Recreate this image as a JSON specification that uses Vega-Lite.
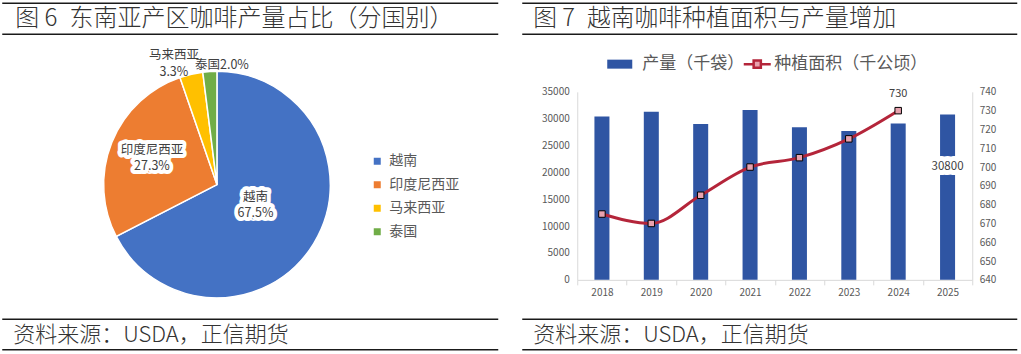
{
  "$schema": "https://vega.github.io/schema/vega-lite/v6.json",
  "background": "white",
  "padding": {"left": 1.25, "top": 2.25, "right": 0, "bottom": 0},
  "columns": 2,
  "bounds": "flush",
  "spacing": {"row": 0, "column": 24},
  "resolve": {
    "scale": {"color": "independent", "fill": "independent", "stroke": "independent"},
    "legend": {"color": "independent", "fill": "independent", "stroke": "independent"}
  },
  "config": {
    "font": "Noto Sans CJK SC",
    "view": {"stroke": null},
    "axis": {"labelFont": "Noto Sans CJK SC", "grid": false, "title": null},
    "legend": {"labelFont": "Noto Sans CJK SC"},
    "text": {"font": "Noto Sans CJK SC"}
  },
  "concat": [
    {
      "width": 496, "height": 46.1,
      "layer": [
        {"data": {"values": [{"p": 0}, {"p": 1}]}, "mark": {"type": "rule", "color": "#1a1a1a", "strokeWidth": 1.5},
         "encoding": {"y": {"field": "p", "type": "quantitative", "scale": {"domain": [0, 1], "range": [0, 31]}, "axis": null}}},
        {"data": {"values": [{"t": "图 6\u2002东南亚产区咖啡产量占比（分国别）"}]},
         "mark": {"type": "text", "align": "left", "baseline": "middle", "dx": 13, "fontSize": 24, "fontWeight": 300, "color": "#333333"},
         "encoding": {"text": {"field": "t"}, "x": {"datum": 0, "type": "quantitative", "scale": {"domain": [0, 1]}, "axis": null}, "y": {"datum": 0.5, "type": "quantitative", "axis": null}}}
      ]
    },
    {
      "width": 495, "height": 46.1,
      "layer": [
        {"data": {"values": [{"p": 0}, {"p": 1}]}, "mark": {"type": "rule", "color": "#1a1a1a", "strokeWidth": 1.5},
         "encoding": {"y": {"field": "p", "type": "quantitative", "scale": {"domain": [0, 1], "range": [0, 31]}, "axis": null}}},
        {"data": {"values": [{"t": "图 7\u2002越南咖啡种植面积与产量增加"}]},
         "mark": {"type": "text", "align": "left", "baseline": "middle", "dx": 11, "fontSize": 23.8, "fontWeight": 300, "color": "#333333"},
         "encoding": {"text": {"field": "t"}, "x": {"datum": 0, "type": "quantitative", "scale": {"domain": [0, 1]}, "axis": null}, "y": {"datum": 0.5, "type": "quantitative", "axis": null}}}
      ]
    },
    {
      "width": 429.4, "height": 268.6,
      "data": {"values": [
        {"country": "越南", "share": 67.5},
        {"country": "印度尼西亚", "share": 27.3},
        {"country": "马来西亚", "share": 3.3},
        {"country": "泰国", "share": 2.0}
      ]},
      "transform": [{"calculate": "datum.country + (datum.country === '泰国' ? '' : '\\n') + format(datum.share, '.1f') + '%'", "as": "label"}],
      "encoding": {
        "theta": {"field": "share", "type": "quantitative", "stack": true},
        "order": {"field": "share", "type": "quantitative", "sort": "descending"}
      },
      "layer": [
        {"mark": {"type": "arc", "outerRadius": 113.3, "stroke": "white", "strokeWidth": 1.5},
         "encoding": {"color": {"field": "country", "type": "nominal",
           "scale": {"domain": ["越南", "印度尼西亚", "马来西亚", "泰国"], "range": ["#4472C4", "#ED7D31", "#FFC000", "#70AD47"]},
           "legend": {"orient": "none", "legendX": 368, "legendY": 104, "title": null, "symbolType": "square", "symbolSize": 49, "symbolStrokeWidth": 0,
             "labelFontSize": 14, "labelColor": "#595959", "labelOffset": 5, "rowPadding": 9.5, "padding": 0}}}},
        {"mark": {"type": "text", "radius": 44, "dx": 1, "dy": -10, "fontSize": 12.5, "lineBreak": "\n", "lineHeight": 16, "color": "white", "stroke": "white", "strokeWidth": 8, "strokeJoin": "round"},
         "encoding": {"text": {"condition": {"test": "datum.country === '越南'", "field": "label"}, "value": ""}}},
        {"mark": {"type": "text", "radius": 44, "dx": 1, "dy": -10, "fontSize": 12.5, "lineBreak": "\n", "lineHeight": 16, "color": "#404040"},
         "encoding": {"text": {"condition": {"test": "datum.country === '越南'", "field": "label"}, "value": ""}}},
        {"mark": {"type": "text", "radius": 70, "dy": -8, "fontSize": 12.5, "lineBreak": "\n", "lineHeight": 16, "color": "white", "stroke": "white", "strokeWidth": 8, "strokeJoin": "round"},
         "encoding": {"text": {"condition": {"test": "datum.country === '印度尼西亚'", "field": "label"}, "value": ""}}},
        {"mark": {"type": "text", "radius": 70, "dy": -8, "fontSize": 12.5, "lineBreak": "\n", "lineHeight": 16, "color": "#404040"},
         "encoding": {"text": {"condition": {"test": "datum.country === '印度尼西亚'", "field": "label"}, "value": ""}}},
        {"mark": {"type": "text", "radius": 128, "dx": -14, "dy": -5, "fontSize": 12.5, "lineBreak": "\n", "lineHeight": 17, "color": "#404040"},
         "encoding": {"text": {"condition": {"test": "datum.country === '马来西亚'", "field": "label"}, "value": ""}}},
        {"mark": {"type": "text", "radius": 120, "dx": 12.5, "fontSize": 12.5, "lineBreak": "\n", "lineHeight": 16, "color": "#404040"},
         "encoding": {"text": {"condition": {"test": "datum.country === '泰国'", "field": "label"}, "value": ""}}}
      ]
    },
    {
      "width": 495, "height": 268.6,
      "data": {"values": [
        {"year": 2018, "prod": 30400, "area": 675},
        {"year": 2019, "prod": 31300, "area": 670},
        {"year": 2020, "prod": 29000, "area": 685},
        {"year": 2021, "prod": 31600, "area": 700},
        {"year": 2022, "prod": 28400, "area": 705},
        {"year": 2023, "prod": 27700, "area": 715},
        {"year": 2024, "prod": 29100, "area": 730},
        {"year": 2025, "prod": 30800, "area": null}
      ]},
      "encoding": {
        "x": {"field": "year", "type": "ordinal", "scale": {"range": [55, 450], "paddingInner": 0, "paddingOuter": 0},
          "axis": {"orient": "bottom", "offset": -39, "labelAngle": 0, "title": null, "domainColor": "#D9D9D9", "tickColor": "#D9D9D9", "tickSize": 5, "tickBand": "extent", "labelColor": "#595959", "labelFontSize": 10, "labelPadding": 3}}
      },
      "layer": [
        {
          "encoding": {
            "y": {"field": "prod", "type": "quantitative", "scale": {"domain": [0, 35000], "range": [229.6, 41.6], "nice": false, "zero": true},
              "axis": {"orient": "left", "offset": -55, "values": [0, 5000, 10000, 15000, 20000, 25000, 30000, 35000], "format": "d", "ticks": false, "domainColor": "#D9D9D9", "labelColor": "#595959", "labelFontSize": 10, "labelPadding": 8, "title": null}}
          },
          "layer": [
            {"mark": {"type": "bar", "width": {"band": 0.304}},
             "encoding": {"fill": {"datum": "产量（千袋）", "type": "nominal",
               "scale": {"domain": ["产量（千袋）"], "range": ["#2F55A3"]},
               "legend": {"orient": "none", "legendX": 89, "legendY": 5.4, "title": null,
                 "labelFontSize": 17, "labelColor": "#595959", "labelOffset": 14, "symbolSize": 81, "labelLimit": 400, "padding": 0,
                 "symbolType": "M-2.78,-1H2.78V1H-2.78Z", "symbolStrokeWidth": 0, "symbolOpacity": 1}}}},
            {"transform": [{"filter": "datum.year == 2025"}],
             "mark": {"type": "text", "dy": 52.7, "fontSize": 11.5, "color": "white", "stroke": "white", "strokeWidth": 10, "strokeJoin": "round"},
             "encoding": {"text": {"field": "prod", "type": "quantitative", "format": "d"}}},
            {"transform": [{"filter": "datum.year == 2025"}],
             "mark": {"type": "text", "dy": 52.7, "fontSize": 11.5, "color": "#404040"},
             "encoding": {"text": {"field": "prod", "type": "quantitative", "format": "d"}}}
          ]
        },
        {
          "encoding": {
            "y": {"field": "area", "type": "quantitative", "scale": {"domain": [640, 740], "range": [229.6, 41.6], "nice": false, "zero": false},
              "axis": {"orient": "right", "offset": -45, "values": [640, 650, 660, 670, 680, 690, 700, 710, 720, 730, 740], "format": "d", "ticks": false, "domainColor": "#D9D9D9", "labelColor": "#595959", "labelFontSize": 10, "labelPadding": 7, "title": null}}
          },
          "layer": [
            {"mark": {"type": "line", "interpolate": "monotone", "strokeWidth": 3},
             "encoding": {"stroke": {"datum": "种植面积（千公顷）", "type": "nominal",
               "scale": {"domain": ["种植面积（千公顷）"], "range": ["#B4253A"]},
               "legend": {"orient": "none", "legendX": 226.5, "legendY": 5.4, "title": null,
                 "labelFontSize": 17, "labelColor": "#595959", "labelOffset": 8.5, "symbolSize": 81, "labelLimit": 400, "padding": 0,
                 "symbolType": "M-3,0H-0.8M0.8,0H3M-0.8,-0.8H0.8V0.8H-0.8Z", "symbolStrokeWidth": 2.5, "symbolFillColor": "#E8A2AE", "symbolOpacity": 1}}}},
            {"mark": {"type": "point", "shape": "square", "filled": true, "fill": "#E8A2AE", "stroke": "#000000", "strokeWidth": 1, "size": 42, "opacity": 1}},
            {"transform": [{"filter": "datum.year == 2024"}],
             "mark": {"type": "text", "dy": -16.6, "fontSize": 11, "color": "#404040"},
             "encoding": {"text": {"field": "area", "type": "quantitative", "format": "d"}}}
          ]
        }
      ],
      "resolve": {"scale": {"y": "independent"}}
    },
    {
      "width": 496, "height": 30.6,
      "layer": [
        {"data": {"values": [{"p": 0}, {"p": 1}]}, "mark": {"type": "rule", "color": "#1a1a1a", "strokeWidth": 1.5},
         "encoding": {"y": {"field": "p", "type": "quantitative", "scale": {"domain": [0, 1]}, "axis": null}}},
        {"data": {"values": [{"t": "资料来源：USDA，正信期货"}]},
         "mark": {"type": "text", "align": "left", "baseline": "middle", "dx": 11, "fontSize": 22, "fontWeight": 300, "color": "#333333"},
         "encoding": {"text": {"field": "t"}, "x": {"datum": 0, "type": "quantitative", "scale": {"domain": [0, 1]}, "axis": null}, "y": {"datum": 0.5, "type": "quantitative", "axis": null}}}
      ]
    },
    {
      "width": 495, "height": 30.6,
      "layer": [
        {"data": {"values": [{"p": 0}, {"p": 1}]}, "mark": {"type": "rule", "color": "#1a1a1a", "strokeWidth": 1.5},
         "encoding": {"y": {"field": "p", "type": "quantitative", "scale": {"domain": [0, 1]}, "axis": null}}},
        {"data": {"values": [{"t": "资料来源：USDA，正信期货"}]},
         "mark": {"type": "text", "align": "left", "baseline": "middle", "dx": 11, "fontSize": 22, "fontWeight": 300, "color": "#333333"},
         "encoding": {"text": {"field": "t"}, "x": {"datum": 0, "type": "quantitative", "scale": {"domain": [0, 1]}, "axis": null}, "y": {"datum": 0.5, "type": "quantitative", "axis": null}}}
      ]
    }
  ]
}
